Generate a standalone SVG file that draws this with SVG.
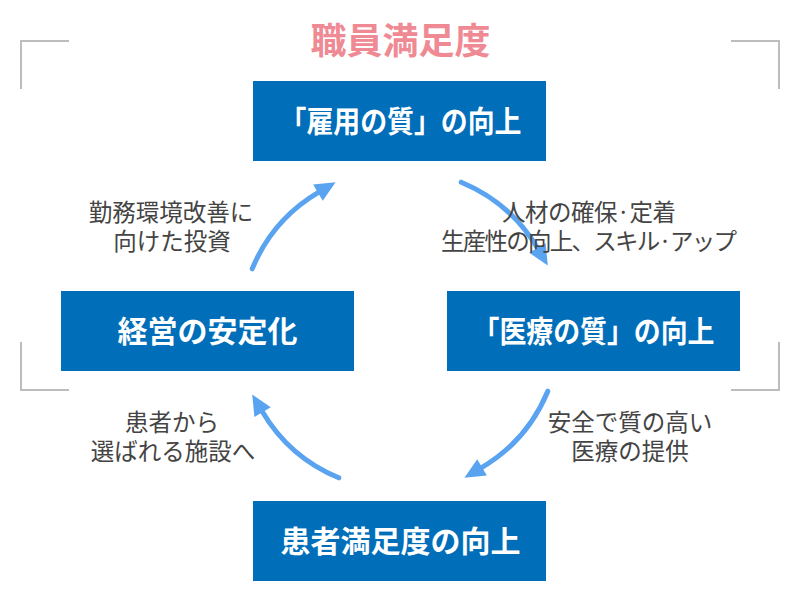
<svg xmlns="http://www.w3.org/2000/svg" width="800" height="600" viewBox="0 0 800 600">
<style>
.box{fill:#006eb9;}
.bt{fill:#ffffff;font-family:"Noto Sans CJK JP","Noto Sans",sans-serif;font-weight:700;font-size:30px;text-anchor:middle;}
.lb{fill:#444444;font-family:"Noto Sans CJK JP","Noto Sans",sans-serif;font-weight:400;font-size:23.5px;text-anchor:middle;}
.br{fill:none;stroke:#bdbdbd;stroke-width:2;}
.arc{fill:none;stroke:#5aa3f0;stroke-width:5;stroke-linecap:round;}
</style>
<defs>
<marker id="ah" markerUnits="userSpaceOnUse" markerWidth="22" markerHeight="22" viewBox="0 -10 22 20" refX="0" refY="0" orient="auto" overflow="visible">
<path d="M-1,-9.5 L19.5,0 L-1,9.5 z" fill="#5aa3f0"/>
</marker>
</defs>
<rect width="800" height="600" fill="#ffffff"/>
<g id="frame">
<path class="br" d="M69,41 H21 V89"/>
<path class="br" d="M731,41 H779 V89"/>
<path class="br" d="M21,342 V390 H69"/>
<path class="br" d="M779,342 V390 H731"/>
</g>
<g id="title">
<text x="400.5" y="54" fill="#ef8a94" font-family="'Noto Sans CJK JP','Noto Sans',sans-serif" font-weight="700" font-size="36" text-anchor="middle">職員満足度</text>
</g>
<g id="connectors">
<path class="arc" d="M252.2,268.8 A160,160 0 0 1 318.8,192.1" marker-end="url(#ah)"/>
<path class="arc" d="M461.2,182.2 A160,160 0 0 1 537.9,248.8" marker-end="url(#ah)"/>
<path class="arc" d="M547.8,391.2 A160,160 0 0 1 481.2,467.9" marker-end="url(#ah)"/>
<path class="arc" d="M338.8,477.8 A160,160 0 0 1 262.1,411.2" marker-end="url(#ah)"/>
</g>
<g id="node-koyou">
<rect class="box" x="253" y="81" width="293" height="80"/>
<text class="bt" x="400.5" y="132" textLength="242" lengthAdjust="spacingAndGlyphs">「雇用の質」の向上</text>
</g>
<g id="node-iryou">
<rect class="box" x="447" y="291" width="293" height="80"/>
<text class="bt" x="593.5" y="342" textLength="242" lengthAdjust="spacingAndGlyphs">「医療の質」の向上</text>
</g>
<g id="node-kanja">
<rect class="box" x="253" y="501" width="293" height="80"/>
<text class="bt" x="400.5" y="552">患者満足度の向上</text>
</g>
<g id="node-keiei">
<rect class="box" x="61" y="291" width="293" height="80"/>
<text class="bt" x="207.5" y="342">経営の安定化</text>
</g>
<g id="labels">
<text class="lb"><tspan x="171" y="220.5">勤務環境改善に</tspan><tspan x="172" y="249.5">向けた投資</tspan></text>
<text class="lb"><tspan x="589" y="220.5" textLength="174">人材の確保·定着</tspan><tspan x="589" y="249.5" textLength="296">生産性の向上、スキル·アップ</tspan></text>
<text class="lb"><tspan x="172" y="430.5">患者から</tspan><tspan x="173" y="459.5">選ばれる施設へ</tspan></text>
<text class="lb"><tspan x="630" y="430.5">安全で質の高い</tspan><tspan x="630" y="459.5">医療の提供</tspan></text>
</g>
</svg>
